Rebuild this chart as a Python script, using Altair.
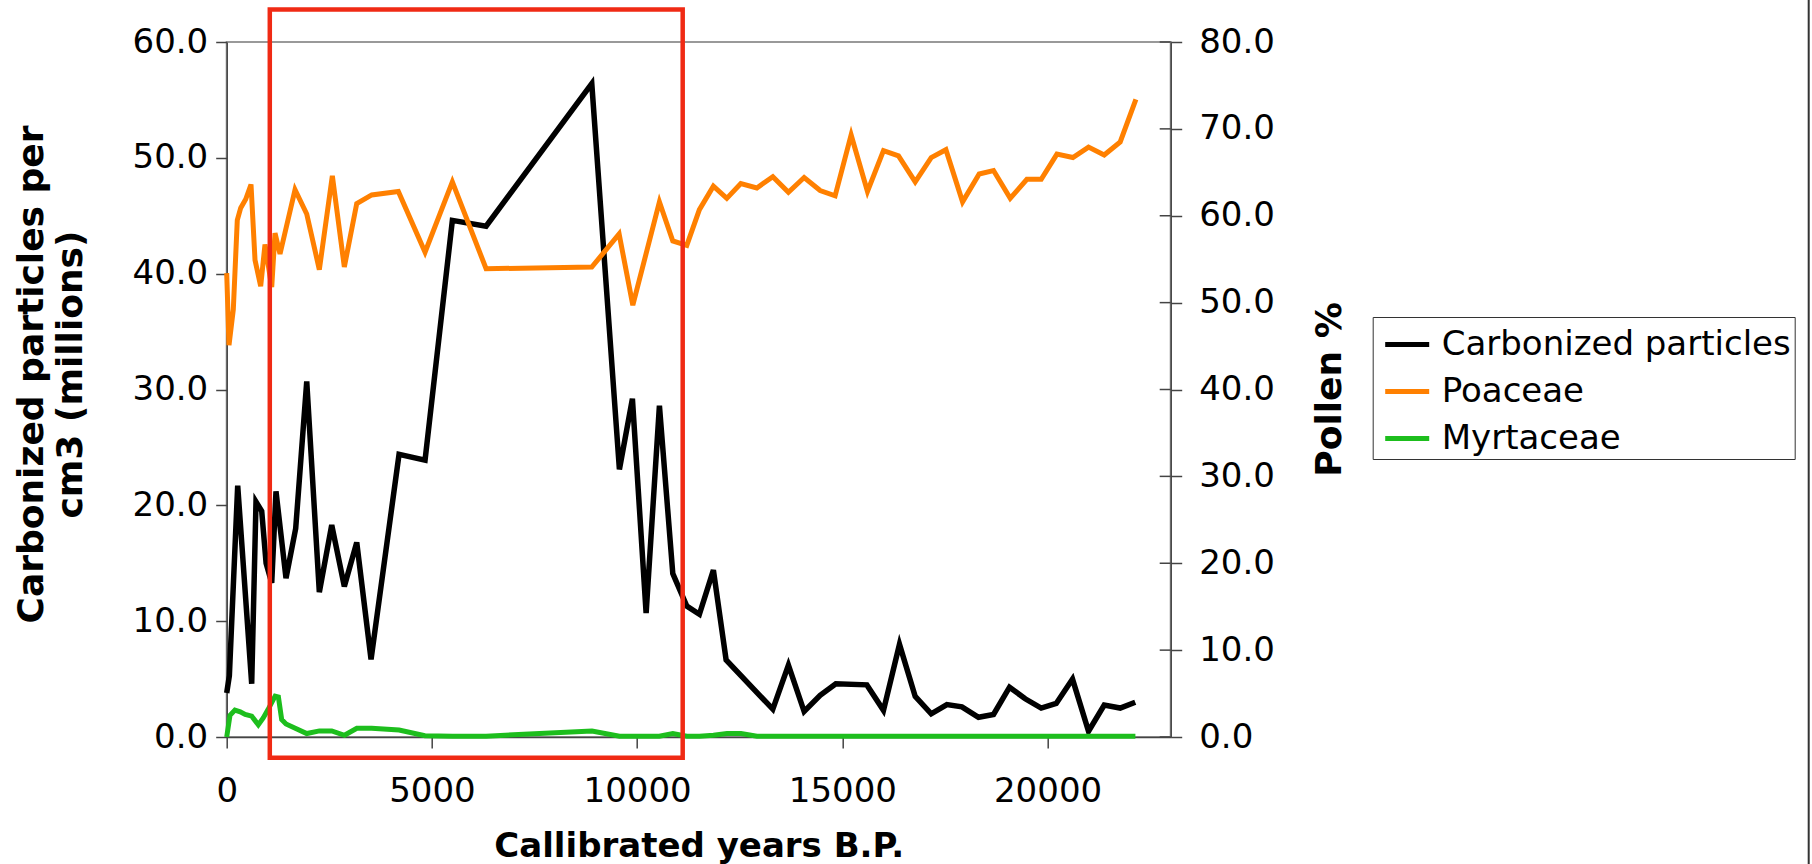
import altair as alt
import pandas as pd

# ---------------- data ----------------
years_carbon = [0, 65, 268, 609, 714, 853, 960, 1097, 1201, 1445, 1681, 1950, 2257,
                2559, 2866, 3168, 3517, 4199, 4833, 5498, 6320, 8895, 9568, 9885,
                10219, 10543, 10869, 11210, 11517, 11858, 12168, 13306, 13686, 14069,
                14459, 14841, 15597, 16002, 16392, 16775, 17165, 17547, 17913, 18317,
                18683, 19073, 19455, 19845, 20211, 20608, 20998, 21380, 21770, 22136]
carbon = [3.8, 5.3, 21.7, 4.6, 20.3, 19.5, 15.0, 13.3, 21.2, 13.7, 18.0, 30.7, 12.5,
          18.3, 13.0, 16.8, 6.7, 24.4, 23.9, 44.6, 44.1, 56.4, 23.1, 29.2,
          10.7, 28.6, 14.1, 11.3, 10.6, 14.4, 6.65, 2.4, 6.2, 2.2,
          3.6, 4.6, 4.5, 2.3, 8.0, 3.5, 2.0, 2.8, 2.6, 1.7,
          1.95, 4.3, 3.3, 2.5, 2.9, 5.0, 0.5, 2.75, 2.5, 3.0]

years_poaceae = [0, 56, 161, 258, 341, 463, 592, 690, 828, 933, 1097, 1177, 1299, 1665,
                 1950, 2257, 2574, 2866, 3168, 3534, 4182, 4833, 5498, 6320, 8895, 9561,
                 9895, 10543, 10869, 11210, 11517, 11858, 12185, 12526, 12916, 13306,
                 13686, 14069, 14459, 14824, 15214, 15612, 16002, 16368, 16775, 17165,
                 17523, 17929, 18334, 18683, 19090, 19496, 19845, 20228, 20617, 20998,
                 21380, 21770, 22152]
poaceae = [53.4, 45.1, 49.2, 59.5, 60.9, 61.9, 63.6, 54.9, 51.9, 56.7, 51.8, 58.0, 55.6, 63.0,
           60.2, 53.8, 64.6, 54.1, 61.4, 62.4, 62.8, 55.8, 63.9, 53.9, 54.1, 57.9,
           49.7, 61.6, 57.1, 56.6, 60.7, 63.4, 62.0, 63.7, 63.2, 64.5,
           62.7, 64.4, 62.9, 62.3, 69.3, 62.8, 67.5, 66.9, 63.9, 66.7,
           67.6, 61.6, 64.8, 65.2, 62.0, 64.2, 64.2, 67.1, 66.7, 67.9,
           67.0, 68.5, 73.4]

years_myrtaceae = [0, 80, 200, 330, 450, 610, 770, 890, 1000, 1180, 1260, 1340, 1445,
                   1950, 2260, 2560, 2870, 3170, 3530, 4200, 4830, 5500, 6320, 8900,
                   9570, 10540, 10870, 11210, 11520, 11860, 12190, 12530, 12920, 22140]
myrtaceae = [0.0, 2.5, 3.1, 2.9, 2.6, 2.4, 1.4, 2.2, 3.1, 4.7, 4.6, 2.0, 1.5,
             0.4, 0.7, 0.7, 0.2, 1.0, 1.0, 0.8, 0.15, 0.1, 0.1, 0.7,
             0.1, 0.1, 0.4, 0.1, 0.1, 0.2, 0.4, 0.4, 0.1, 0.1]

series_names = ["Carbonized particles", "Poaceae", "Myrtaceae"]
series_colors = ["#000000", "#FF8000", "#1DBE1D"]

x_domain = [0, 23000]
x_ticks = [0, 5000, 10000, 15000, 20000]
left_domain = [0, 60]
left_ticks = [0, 10, 20, 30, 40, 50, 60]
right_domain = [0, 80]
right_ticks = [0, 10, 20, 30, 40, 50, 60, 70, 80]

# highlighted window (years, left-axis units)
box_years = [1050, 11110]
box_carbon = [-1.8, 62.8]

# ---------------- tables ----------------
carbon_df = pd.DataFrame({"year": years_carbon, "value": carbon,
                          "series": series_names[0]})
pollen_df = pd.concat([
    pd.DataFrame({"year": years_poaceae, "value": poaceae, "series": series_names[1]}),
    pd.DataFrame({"year": years_myrtaceae, "value": myrtaceae, "series": series_names[2]}),
], ignore_index=True)
ticks_df = pd.DataFrame({"tick": right_ticks, "edge": x_domain[1]})
box_df = pd.DataFrame({"x0": [box_years[0]], "x1": [box_years[1]],
                       "y0": [box_carbon[0]], "y1": [box_carbon[1]]})
one_df = pd.DataFrame({"k": [0]})

FONT = "DejaVu Sans"
AXIS_COLOR = "#444444"

x_scale = alt.Scale(domain=x_domain, nice=False, zero=False)
x_axis = alt.Axis(values=x_ticks, format="d", title="Callibrated years B.P.",
                  tickSize=11, labelPadding=26, labelFlush=False,
                  titleX=472, titleY=119.5,
                  titleAlign="center", titleBaseline="alphabetic")
left_scale = alt.Scale(domain=left_domain, nice=False)
left_axis = alt.Axis(values=left_ticks, format=".1f",
                     title=["Carbonized particles per", "cm3 (millions)"],
                     titleAngle=270, titleX=-184, titleY=332, titleAlign="center",
                     titleBaseline="alphabetic", titleFontSize=36, titleLineHeight=39,
                     tickSize=11, labelPadding=8)
right_scale = alt.Scale(domain=right_domain, nice=False)
right_axis = alt.Axis(orient="right", values=right_ticks, format=".1f", title="Pollen %",
                      titleAngle=270, titleX=170, titleY=347, titleAlign="center",
                      titleBaseline="alphabetic", titleFontSize=36,
                      tickSize=11, labelPadding=17)
color_enc = alt.Color("series:N", scale=alt.Scale(domain=series_names, range=series_colors),
                      legend=alt.Legend(orient="none", legendX=1146, legendY=275, title=None))

carbon_line = alt.Chart(carbon_df).mark_line(strokeWidth=5.5).encode(
    x=alt.X("year:Q", scale=x_scale, axis=x_axis),
    y=alt.Y("value:Q", scale=left_scale, axis=left_axis),
    color=color_enc,
)

pollen_lines = alt.Chart(pollen_df).mark_line(strokeWidth=5).encode(
    x=alt.X("year:Q", scale=x_scale, axis=x_axis),
    y=alt.Y("value:Q", scale=right_scale, axis=right_axis),
    color=color_enc,
)
inner_ticks = alt.Chart(ticks_df).mark_rule(color=AXIS_COLOR, strokeWidth=1.5, xOffset=-11).encode(
    x=alt.X("edge:Q", scale=x_scale, axis=x_axis),
    x2="edge:Q",
    y=alt.Y("tick:Q", scale=right_scale, axis=right_axis),
)
pollen_group = alt.layer(pollen_lines, inner_ticks)

box = alt.Chart(box_df).mark_rect(filled=False, stroke="#F02A14", strokeWidth=4.5).encode(
    x=alt.X("x0:Q", scale=x_scale, axis=x_axis),
    x2="x1:Q",
    y=alt.Y("y0:Q", scale=left_scale, axis=None),
    y2="y1:Q",
)
border = alt.Chart(one_df).mark_rule(color="#333333", strokeWidth=2).encode(
    x=alt.value(1582), y=alt.value(-42), y2=alt.value(822)
)
box_group = alt.layer(box, border)

chart = alt.layer(carbon_line, pollen_group, box_group).resolve_scale(
    y="independent"
).properties(
    width=944, height=695,
    padding={"left": 226.7, "top": 42, "right": 641.3, "bottom": 127},
    autosize=alt.AutoSizeParams(type="none"),
    background="white",
).configure_view(
    stroke="#999999", strokeWidth=2
).configure_axis(
    grid=False,
    labelFont=FONT, labelFontSize=34, labelColor="#000000",
    titleFont=FONT, titleFontSize=34, titleFontWeight="bold", titleColor="#000000",
    domainColor=AXIS_COLOR, domainWidth=1.5, tickColor=AXIS_COLOR, tickWidth=1.5,
).configure_legend(
    labelFont=FONT, labelFontSize=34, labelColor="#000000",
    symbolType="stroke", symbolSize=1936, symbolStrokeWidth=5,
    labelOffset=10, rowPadding=5, padding=3, symbolOffset=7,
    strokeColor="#333333", fillColor="#FFFFFF", labelLimit=0,
)

chart.save("out.html", embed_options={"renderer": "svg", "actions": False})
